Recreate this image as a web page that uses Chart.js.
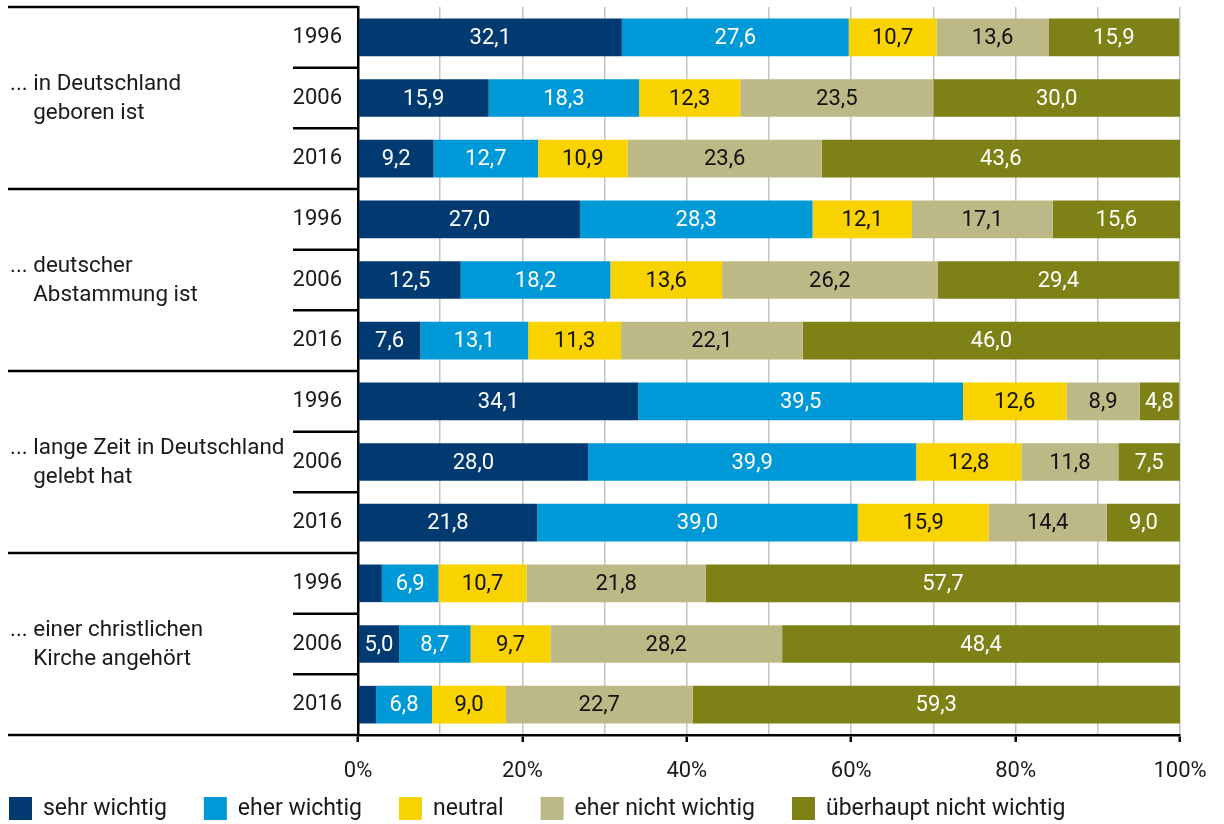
<!DOCTYPE html>
<html lang="de">
<head>
<meta charset="utf-8">
<title>Wichtigkeit von Kriterien</title>
<script src="https://cdn.jsdelivr.net/npm/chart.js@4.4.1/dist/chart.umd.min.js"></script>
<style>
  html, body { margin: 0; padding: 0; background: #fff; }
  #wrap { width: 1224px; height: 824px; }
</style>
</head>
<body>
<div id="wrap"><canvas id="chart" width="1224" height="824"></canvas></div>
<script>
// Kriterien (je drei Erhebungsjahre)
const groups = [
  ['... in Deutschland', 'geboren ist'],
  ['... deutscher', 'Abstammung ist'],
  ['... lange Zeit in Deutschland', 'gelebt hat'],
  ['... einer christlichen', 'Kirche angehört']
];
const years = ['1996', '2006', '2016'];
const rowLabels = groups.flatMap(() => years);

const seriesNames = ['sehr wichtig', 'eher wichtig', 'neutral', 'eher nicht wichtig', 'überhaupt nicht wichtig'];
const seriesColors = ['#003a70', '#0099d8', '#f8d300', '#bdb986', '#7e8116'];
const labelColors = ['#fff', '#fff', '#111', '#111', '#fff'];

// Anteile in Prozent, Reihenfolge wie rowLabels
const sehrWichtig      = [32.1, 15.9, 9.2, 27.0, 12.5, 7.6, 34.1, 28.0, 21.8, 2.9, 5.0, 2.2];
const eherWichtig      = [27.6, 18.3, 12.7, 28.3, 18.2, 13.1, 39.5, 39.9, 39.0, 6.9, 8.7, 6.8];
const neutral          = [10.7, 12.3, 10.9, 12.1, 13.6, 11.3, 12.6, 12.8, 15.9, 10.7, 9.7, 9.0];
const eherNichtWichtig = [13.6, 23.5, 23.6, 17.1, 26.2, 22.1, 8.9, 11.8, 14.4, 21.8, 28.2, 22.7];
const ueberhauptNicht  = [15.9, 30.0, 43.6, 15.6, 29.4, 46.0, 4.8, 7.5, 9.0, 57.7, 48.4, 59.3];
const seriesData = [sehrWichtig, eherWichtig, neutral, eherNichtWichtig, ueberhauptNicht];

const xTicks = [0, 20, 40, 60, 80, 100];

const FONT = 'Roboto, "Liberation Sans", sans-serif';
const TEXT = '#1a1a1a';

// Werte in die Balken schreiben
const barLabels = {
  id: 'barLabels',
  afterDatasetsDraw(chart) {
    const ctx = chart.ctx;
    ctx.save();
    ctx.font = '22px ' + FONT;
    ctx.textAlign = 'center';
    ctx.textBaseline = 'middle';
    chart.data.datasets.forEach((ds, di) => {
      chart.getDatasetMeta(di).data.forEach((bar, i) => {
        const v = ds.data[i];
        if (v < 4) return;
        const left = Math.max(bar.base, chart.chartArea.left);
        const right = Math.min(bar.x, chart.chartArea.right);
        ctx.fillStyle = labelColors[di];
        ctx.fillText(v.toFixed(1).replace('.', ','), (left + right) / 2, bar.y + 1);
      });
    });
    ctx.restore();
  }
};

// Gruppenbeschriftung, Trennlinien und Legende
const frame = {
  id: 'frame',
  afterDraw(chart) {
    const ctx = chart.ctx;
    const y = chart.scales.y;
    const area = chart.chartArea;
    const edge = i => (y.getPixelForValue(i) + y.getPixelForValue(i + 1)) / 2;

    ctx.save();
    ctx.strokeStyle = '#000';
    ctx.lineWidth = 2.5;
    ctx.beginPath();
    ctx.moveTo(8, area.top); ctx.lineTo(area.left, area.top);
    ctx.moveTo(8, area.bottom); ctx.lineTo(area.left, area.bottom);
    for (let i = 0; i < rowLabels.length - 1; i++) {
      const yy = edge(i);
      const full = (i + 1) % years.length === 0;
      ctx.moveTo(full ? 8 : 293, yy);
      ctx.lineTo(area.left, yy);
    }
    ctx.stroke();

    ctx.fillStyle = TEXT;
    ctx.font = '22.4px ' + FONT;
    ctx.textBaseline = 'middle';
    ctx.textAlign = 'left';
    const indent = ctx.measureText('... ').width;
    groups.forEach((lines, g) => {
      const mid = y.getPixelForValue(g * years.length + 1);
      ctx.fillText(lines[0], 10, mid - 14);
      ctx.fillText(lines[1], 10 + indent, mid + 15);
    });

    // Legende
    ctx.font = '23px ' + FONT;
    let x = 9;
    const ly = 808;
    seriesNames.forEach((name, i) => {
      ctx.fillStyle = seriesColors[i];
      ctx.fillRect(x, ly - 11, 23, 23);
      x += 34;
      ctx.fillStyle = TEXT;
      ctx.fillText(name, x, ly + 1);
      x += ctx.measureText(name).width + 37;
    });
    ctx.restore();
  }
};

new Chart(document.getElementById('chart'), {
  type: 'bar',
  data: {
    labels: rowLabels,
    datasets: seriesData.map((data, i) => ({
      label: seriesNames[i],
      data: data,
      backgroundColor: seriesColors[i],
      borderWidth: 0,
      barPercentage: 0.62,
      categoryPercentage: 1
    }))
  },
  options: {
    indexAxis: 'y',
    responsive: false,
    animation: false,
    layout: { padding: { top: 7, right: 44, bottom: 0, left: 0 } },
    scales: {
      x: {
        stacked: true,
        min: 0,
        max: 100,
        afterFit: s => { s.height = 89; },
        afterBuildTicks: s => { s.ticks = [0, 10, 20, 30, 40, 50, 60, 70, 80, 90, 100].map(v => ({ value: v })); },
        border: { display: true, color: '#000', width: 2.5 },
        grid: {
          color: c => (c.tick && c.tick.value > 0) ? '#c4c4c4' : 'transparent',
          lineWidth: 1.5,
          tickLength: 7,
          tickColor: c => (c.tick && xTicks.includes(c.tick.value)) ? '#000' : 'transparent',
          tickWidth: 2.5,
          z: -1
        },
        ticks: {
          padding: 16,
          autoSkip: false,
          maxRotation: 0,
          color: TEXT,
          font: { family: FONT, size: 22 },
          callback: v => xTicks.includes(v) ? v + '%' : ''
        }
      },
      y: {
        stacked: true,
        afterFit: s => { s.width = 358; s.paddingTop = 0; s.paddingBottom = 0; },
        border: { display: true, color: '#000', width: 2.5 },
        grid: { display: false, drawTicks: false },
        ticks: {
          padding: 16,
          color: TEXT,
          font: { family: FONT, size: 22 }
        }
      }
    },
    plugins: {
      legend: { display: false },
      tooltip: { enabled: false }
    }
  },
  plugins: [barLabels, frame]
});
</script>
</body>
</html>
